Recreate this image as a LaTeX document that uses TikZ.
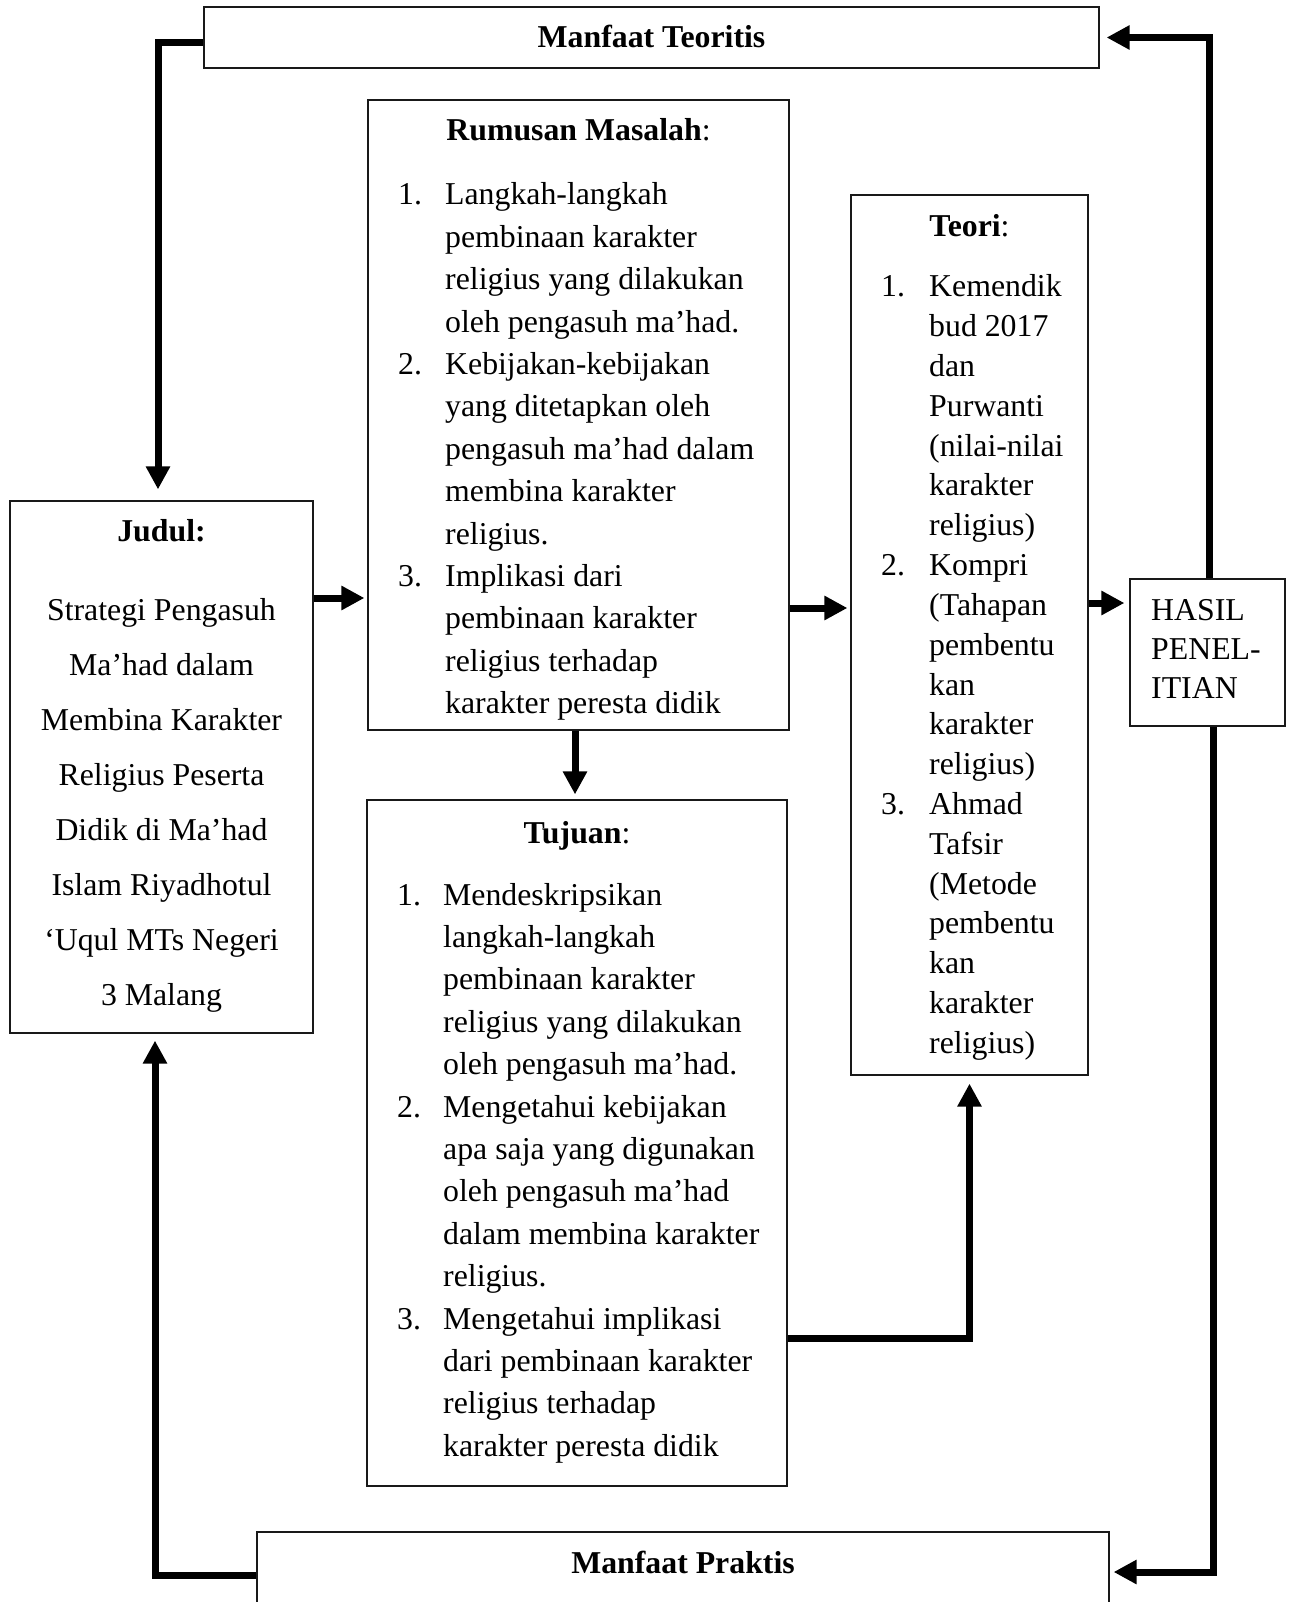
\documentclass[tikz,border=0pt]{standalone}
\usepackage{fontspec}
\setmainfont{Liberation Serif}
\usepackage{tikz}
\usetikzlibrary{
  arrows.meta,
  calc
}
\definecolor{boxclr}{RGB}{25, 25, 25}
\definecolor{arrclr}{RGB}{0, 0, 0}
\newlength{\nrw}
\setlength{\nrw}{47pt}
\newcommand{\itemnr}[1]{\makebox[\nrw][l]{#1}}
\tikzset{
  % Kotak
  boxline/.style  = {draw=boxclr, line width=1.2pt, inner sep=0pt},
  % Panah tebal
  thickarr/.style = {draw=arrclr, line width=7pt, -{Triangle[length=23pt, width=23pt]}},
  % Teks
  lab/.style      = {inner sep=0pt, font=\fontsize{31.8}{42.4}\selectfont},
  labtitle/.style = {lab, anchor=base},
  lablist/.style  = {lab, anchor=base west},
}

\begin{document}
\begin{tikzpicture}[x=1pt, y=-1pt]
  \useasboundingbox (0,0) rectangle (1294,1602);
  \clip (0,0) rectangle (1294,1602);
  % Kotak
  \node[boxline, minimum width=895pt, minimum height=61pt]  (teoritis) at (651.5,37.5) {};
  \node[boxline, minimum width=421pt, minimum height=630pt] (rumusan)  at (578.5,415) {};
  \node[boxline, minimum width=303pt, minimum height=532pt] (judul)    at (161.5,767) {};
  \node[boxline, minimum width=420pt, minimum height=686pt] (tujuan)   at (577,1143) {};
  \node[boxline, minimum width=237pt, minimum height=880pt] (teori)    at (969.5,635) {};
  \node[boxline, minimum width=155pt, minimum height=147pt] (hasil)    at (1207.5,652.5) {};
  \node[boxline, minimum width=852pt, minimum height=80pt]  (praktis)  at (683,1572) {};
  % Judul kotak
  \node[labtitle] (teoritisT) at (651.5,48)  {\bfseries Manfaat Teoritis};
  \node[labtitle] (praktisT)  at (683,1573)  {\bfseries Manfaat Praktis};
  \node[labtitle] (rumusanT)  at (578.5,141) {{\bfseries Rumusan Masalah}:};
  \node[labtitle] (tujuanT)   at (577,843)   {{\bfseries Tujuan}:};
  \node[labtitle] (teoriT)    at (969.5,237) {{\bfseries Teori}:};
  \node[labtitle] (judulT)    at (161.5,541) {\bfseries Judul:};
  % Isi kotak
  \node[labtitle, font=\fontsize{31.8}{55}\selectfont] (judulK) at (161.5,620) {%
    \begin{tabular}[t]{@{}c@{}}
      Strategi Pengasuh\\
      Ma’had dalam\\
      Membina Karakter\\
      Religius Peserta\\
      Didik di Ma’had\\
      Islam Riyadhotul\\
      ‘Uqul MTs Negeri\\
      3 Malang
    \end{tabular}};
  \node[lablist] (rumusanK) at (398,205) {%
    \begin{tabular}[t]{@{}l@{}l@{}}
      \itemnr{1.} & Langkah-langkah\\
                  & pembinaan karakter\\
                  & religius yang dilakukan\\
                  & oleh pengasuh ma’had.\\
      \itemnr{2.} & Kebijakan-kebijakan\\
                  & yang ditetapkan oleh\\
                  & pengasuh ma’had dalam\\
                  & membina karakter\\
                  & religius.\\
      \itemnr{3.} & Implikasi dari\\
                  & pembinaan karakter\\
                  & religius terhadap\\
                  & karakter peresta didik
    \end{tabular}};
  \node[lablist] (tujuanK) at (397,905) {%
    \setlength{\nrw}{46pt}%
    \begin{tabular}[t]{@{}l@{}l@{}}
      \itemnr{1.} & Mendeskripsikan\\
                  & langkah-langkah\\
                  & pembinaan karakter\\
                  & religius yang dilakukan\\
                  & oleh pengasuh ma’had.\\
      \itemnr{2.} & Mengetahui kebijakan\\
                  & apa saja yang digunakan\\
                  & oleh pengasuh ma’had\\
                  & dalam membina karakter\\
                  & religius.\\
      \itemnr{3.} & Mengetahui implikasi\\
                  & dari pembinaan karakter\\
                  & religius terhadap\\
                  & karakter peresta didik
    \end{tabular}};
  \node[lablist, font=\fontsize{31.8}{39.8}\selectfont] (teoriK) at (881,297) {%
    \setlength{\nrw}{48pt}%
    \begin{tabular}[t]{@{}l@{}l@{}}
      \itemnr{1.} & Kemendik\\
                  & bud 2017\\
                  & dan\\
                  & Purwanti\\
                  & (nilai-nilai\\
                  & karakter\\
                  & religius)\\
      \itemnr{2.} & Kompri\\
                  & (Tahapan\\
                  & pembentu\\
                  & kan\\
                  & karakter\\
                  & religius)\\
      \itemnr{3.} & Ahmad\\
                  & Tafsir\\
                  & (Metode\\
                  & pembentu\\
                  & kan\\
                  & karakter\\
                  & religius)
    \end{tabular}};
  \node[lablist, font=\fontsize{31.8}{39}\selectfont] (hasilK) at (1151,620) {%
    \begin{tabular}[t]{@{}l@{}}
      HASIL\\
      PENEL-\\
      ITIAN
    \end{tabular}};
  % Panah
  \draw[thickarr, shorten >=11pt] ([yshift=-5.5pt]teoritis.west) -| ([xshift=-3.5pt]judul.north);
  \draw[thickarr, shorten >=7pt] ([xshift=1.5pt]hasil.north) |- (teoritis.east);
  \draw[thickarr, shorten >=4pt] ([xshift=5.5pt]hasil.south) |- (praktis.east);
  \draw[thickarr, shorten >=7pt] ([yshift=-3pt]praktis.west) -| ([xshift=-6.5pt]judul.south);
  \draw[thickarr, shorten >=3pt] (judul.east |- 0,598) -- (rumusan.west |- 0,598);
  \draw[thickarr, shorten >=5pt] (rumusan.south -| 575,0) -- (tujuan.north -| 575,0);
  \draw[thickarr, shorten >=3pt] (rumusan.east |- 0,608) -- (teori.west |- 0,608);
  \draw[thickarr, shorten >=5pt] (teori.east |- 0,603) -- (hasil.west |- 0,603);
  \draw[thickarr, shorten >=8pt] (tujuan.east |- 0,1338) -| (teori.south);
\end{tikzpicture}
\end{document}
